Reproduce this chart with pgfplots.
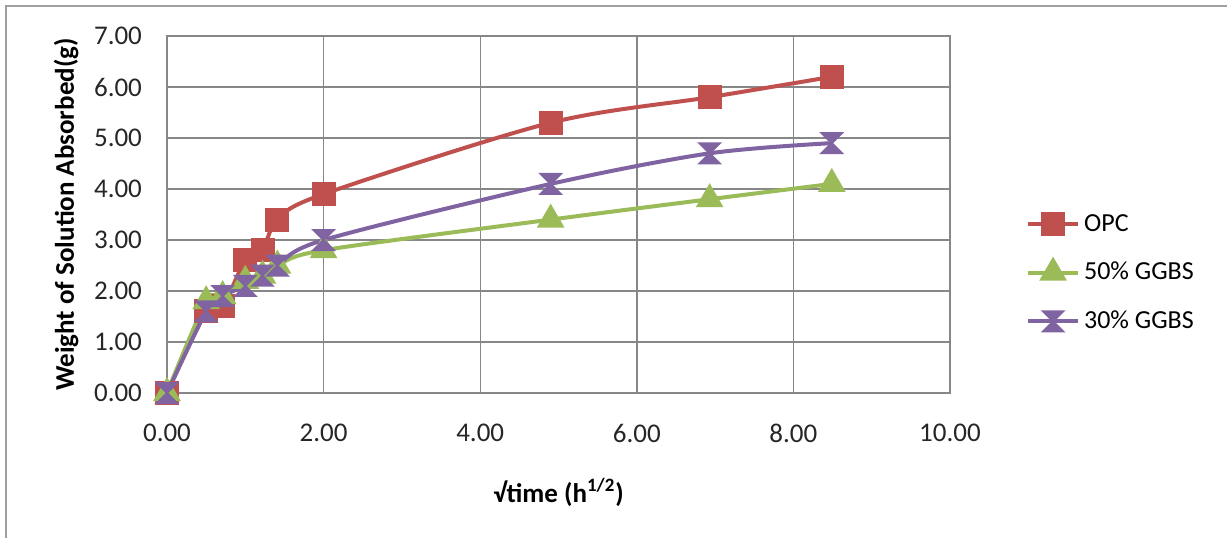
\documentclass[border=0pt]{standalone}
\usepackage{fontspec}
\setmainfont{Carlito}
\usepackage{pgfplots}
\pgfplotsset{compat=1.18}
\definecolor{opc}{HTML}{C0504D}
\definecolor{gfifty}{HTML}{9BBB59}
\definecolor{gthirty}{HTML}{8064A2}
\definecolor{gridc}{HTML}{878787}
\pgfdeclareplotmark{hourglass}{%
  \pgfpathmoveto{\pgfqpoint{-\pgfplotmarksize}{\pgfplotmarksize}}%
  \pgfpathlineto{\pgfqpoint{\pgfplotmarksize}{\pgfplotmarksize}}%
  \pgfpathlineto{\pgfqpoint{-\pgfplotmarksize}{-\pgfplotmarksize}}%
  \pgfpathlineto{\pgfqpoint{\pgfplotmarksize}{-\pgfplotmarksize}}%
  \pgfpathclose
  \pgfusepathqfillstroke}
\begin{document}
\begin{tikzpicture}[x=1pt,y=1pt]
\useasboundingbox (0,0) rectangle (613.5,268.5);
\draw[gridc!80, line width=1.2pt] (3,-5) rectangle (630,265.5);
\begin{axis}[
  at={(83.5pt,72pt)}, anchor=south west,
  scale only axis, width=391.5pt, height=178.5pt,
  xmin=0, xmax=10, ymin=0, ymax=7,
  xtick={0,2,4,6,8,10}, ytick={0,1,2,3,4,5,6,7},
  grid=major, grid style={gridc, line width=0.7pt},
  axis line style={gridc, line width=0.8pt},
  tick style={draw=none},
  xticklabel={\pgfmathprintnumber[fixed,fixed zerofill,precision=2,assume math mode=true]{\tick}},
  yticklabel={\pgfmathprintnumber[fixed,fixed zerofill,precision=2,assume math mode=true]{\tick}},
  ticklabel style={font=\fontsize{13.5}{15}\selectfont, text=black!85},
  yticklabel style={xshift=-9pt},
  xticklabel style={yshift=-12pt},
  xlabel={\textbf{√time (h\textsuperscript{1/2})}},
  ylabel={\textbf{Weight of Solution Absorbed(g)}},
  label style={font=\fontsize{13.5}{15}\selectfont},
  xlabel style={yshift=-11pt, xshift=0pt},
  ylabel style={yshift=1pt},
  legend style={draw=none, at={(1.089,0.336)}, anchor=west, row sep=10pt,
    font=\fontsize{13}{15}\selectfont, fill=none},
  legend cell align=left,
  legend image code/.code={\draw[#1, mark repeat=2, mark phase=2] plot coordinates {(0pt,0pt)(12.5pt,0pt)(25pt,0pt)};},
  every axis plot/.append style={line width=2pt, smooth, tension=0.5},
]
\addplot[color=opc, mark=square*, mark size=5pt, mark options={solid, fill=opc}] coordinates {
  (0,0)(0.5,1.6)(0.71,1.7)(1,2.6)(1.22,2.8)(1.41,3.4)(2,3.9)(4.9,5.3)(6.93,5.8)(8.49,6.2)};
\addlegendentry{OPC}
\addplot[color=gfifty, mark=triangle*, mark size=6pt, mark options={solid, fill=gfifty}] coordinates {
  (0,0)(0.5,1.8)(0.71,1.9)(1,2.2)(1.22,2.3)(1.41,2.5)(2,2.8)(4.9,3.4)(6.93,3.8)(8.49,4.1)};
\addlegendentry{50\% GGBS}
\addplot[color=gthirty, mark=hourglass, mark size=5pt, mark options={solid, fill=gthirty, line width=1pt}] coordinates {
  (0,0)(0.5,1.6)(0.71,1.9)(1,2.1)(1.22,2.3)(1.41,2.5)(2,3.0)(4.9,4.1)(6.93,4.7)(8.49,4.9)};
\addlegendentry{30\% GGBS}
\end{axis}
\end{tikzpicture}
\end{document}
